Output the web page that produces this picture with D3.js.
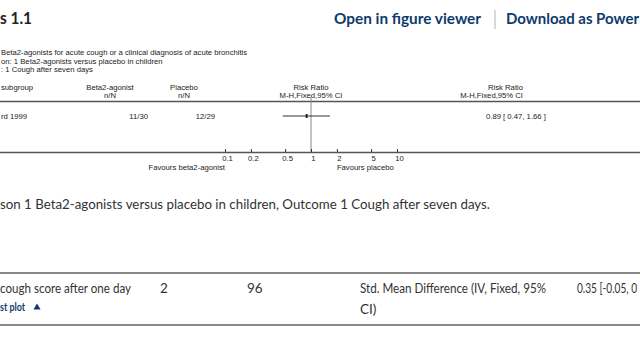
<!DOCTYPE html>
<html><head><meta charset="utf-8">
<script src="https://cdn.jsdelivr.net/npm/d3@7"></script>
<style>
html,body{margin:0;padding:0;background:#fff;overflow:hidden}
svg{display:block}
.pg{font-family:Lato,"Noto Sans",sans-serif}
.fp{font-family:"Liberation Sans",Arial,sans-serif;font-size:7.7px;fill:#222}
</style></head>
<body>
<script>
// ---- data ----
const reviewLines = ["Beta2-agonists for acute cough or a clinical diagnosis of acute bronchitis",
  "on:  1 Beta2-agonists versus placebo in children",
  ":  1 Cough after seven days"];
const studies = ["rd 1999"];
const treatEvents = ["11/30"];
const ctrlEvents = ["12/29"];
const rr = [0.89];
const rrLow = [0.47];
const rrHigh = [1.66];
const rrText = ["0.89 [ 0.47, 1.66 ]"];
const tickValues = [0.1, 0.2, 0.5, 1, 2, 5, 10];
const tickLabels = ["0.1", "0.2", "0.5", "1", "2", "5", "10"];
const favours = ["Favours beta2-agonist", "Favours placebo"];
const tableRow = ["cough score after one day", "2", "96", "Std. Mean Difference (IV, Fixed, 95%", "CI)", "0.35 [-0.05, 0"];

const W = 640, H = 360;
const svg = d3.select("body").append("svg").attr("width", W).attr("height", H);
svg.append("rect").attr("width", W).attr("height", H).attr("fill", "#fff");

// ---- page header ----
const pg = svg.append("g").attr("class", "pg");
pg.append("text").attr("x", 0).attr("y", 24).attr("font-size", 17).attr("font-weight", 700)
  .attr("fill", "#222").attr("textLength", 32).attr("lengthAdjust", "spacingAndGlyphs").text("s 1.1");
pg.append("text").attr("x", 334).attr("y", 24).attr("font-size", 15).attr("font-weight", 700)
  .attr("fill", "#0e3a6c").attr("textLength", 147).attr("lengthAdjust", "spacingAndGlyphs").text("Open in figure viewer");
pg.append("line").attr("x1", 495).attr("x2", 495).attr("y1", 10).attr("y2", 29).attr("stroke", "#ccc").attr("stroke-width", 1.5);
pg.append("text").attr("x", 506).attr("y", 24).attr("font-size", 15).attr("font-weight", 700)
  .attr("fill", "#0e3a6c").attr("textLength", 133).attr("lengthAdjust", "spacingAndGlyphs").text("Download as Power");

// ---- forest plot ----
const fp = svg.append("g").attr("class", "fp");
fp.selectAll("text.rv").data(reviewLines).join("text").attr("class", "rv")
  .attr("x", 1).attr("y", (d, i) => 55 + i * 8.6).text(d => d);

const x = d3.scaleLog().domain([0.1, 10]).range([225, 397]);

// column headers
const hdr = [
  {t: "subgroup", x: 1, a: "start", y: 90},
  {t: "Beta2-agonist", x: 110, a: "middle", y: 90},
  {t: "n/N", x: 110, a: "middle", y: 98},
  {t: "Placebo", x: 184, a: "middle", y: 90},
  {t: "n/N", x: 184, a: "middle", y: 98},
  {t: "Risk Ratio", x: x(1), a: "middle", y: 90},
  {t: "M-H,Fixed,95% CI", x: x(1), a: "middle", y: 98},
  {t: "Risk Ratio", x: 523, a: "end", y: 90},
  {t: "M-H,Fixed,95% CI", x: 523, a: "end", y: 98}
];
fp.selectAll("text.hd").data(hdr).join("text").attr("class", "hd")
  .attr("x", d => d.x).attr("y", d => d.y).attr("text-anchor", d => d.a).text(d => d.t);

fp.append("line").attr("x1", 0).attr("x2", W).attr("y1", 101.5).attr("y2", 101.5)
  .attr("stroke", "#555").attr("stroke-width", 1.6);

// null line
fp.append("line").attr("x1", x(1)).attr("x2", x(1)).attr("y1", 97).attr("y2", 152)
  .attr("stroke", "#888").attr("stroke-width", 1);

const rowY = i => 116 + i * 12;
fp.selectAll("text.st").data(studies).join("text").attr("class", "st")
  .attr("x", 1).attr("y", (d, i) => rowY(i) + 2.8).text(d => d);
fp.selectAll("text.te").data(treatEvents).join("text").attr("class", "te")
  .attr("x", 148).attr("y", (d, i) => rowY(i) + 2.8).attr("text-anchor", "end").text(d => d);
fp.selectAll("text.ce").data(ctrlEvents).join("text").attr("class", "ce")
  .attr("x", 215).attr("y", (d, i) => rowY(i) + 2.8).attr("text-anchor", "end").text(d => d);
fp.selectAll("line.ci").data(rr).join("line").attr("class", "ci")
  .attr("x1", (d, i) => x(rrLow[i])).attr("x2", (d, i) => x(rrHigh[i]))
  .attr("y1", (d, i) => rowY(i)).attr("y2", (d, i) => rowY(i))
  .attr("stroke", "#333").attr("stroke-width", 1);
fp.selectAll("rect.pt").data(rr).join("rect").attr("class", "pt")
  .attr("x", d => x(d) - 1).attr("y", (d, i) => rowY(i) - 2).attr("width", 2).attr("height", 4)
  .attr("fill", "#222");
fp.selectAll("text.rr").data(rrText).join("text").attr("class", "rr")
  .attr("x", 486).attr("y", (d, i) => rowY(i) + 2.8).text(d => d);

// axis
fp.append("line").attr("x1", 0).attr("x2", W).attr("y1", 152.5).attr("y2", 152.5)
  .attr("stroke", "#555").attr("stroke-width", 1.6);
const ax = d3.axisBottom(x).tickValues(tickValues).tickFormat((d, i) => tickLabels[i])
  .tickSize(-3).tickPadding(4);
const axg = fp.append("g").attr("transform", "translate(0,152)").call(ax);
axg.select(".domain").remove();
axg.selectAll(".tick line").attr("stroke", "#333");
axg.selectAll(".tick text").attr("font-family", "Liberation Sans, Arial, sans-serif")
  .attr("font-size", 7.7).attr("fill", "#222").attr("dx", 2);
fp.append("text").attr("x", x(1) - 86).attr("y", 169.5).attr("text-anchor", "end").text(favours[0]);
fp.append("text").attr("x", x(2)).attr("y", 169.5).attr("text-anchor", "start").text(favours[1]);

// ---- caption ----
pg.append("text").attr("x", 0).attr("y", 209).attr("font-size", 14).attr("fill", "#333")
  .attr("textLength", 490).attr("lengthAdjust", "spacingAndGlyphs")
  .text("son 1 Beta2-agonists versus placebo in children, Outcome 1 Cough after seven days.");

// ---- table ----
pg.append("line").attr("x1", 0).attr("x2", W).attr("y1", 273).attr("y2", 273).attr("stroke", "#888").attr("stroke-width", 2);
pg.append("line").attr("x1", 0).attr("x2", W).attr("y1", 325).attr("y2", 325).attr("stroke", "#888").attr("stroke-width", 2);
const cells = [
  {t: tableRow[0], x: 0, y: 293, w: 131},
  {t: tableRow[1], x: 160, y: 293},
  {t: tableRow[2], x: 247, y: 293},
  {t: tableRow[3], x: 360, y: 293, w: 186},
  {t: tableRow[4], x: 360, y: 314},
  {t: tableRow[5], x: 577, y: 293, w: 60}
];
const ct = pg.selectAll("text.cell").data(cells).join("text").attr("class", "cell")
  .attr("x", d => d.x).attr("y", d => d.y).attr("font-size", 13.5).attr("fill", "#333").text(d => d.t);
ct.filter(d => d.w).attr("textLength", d => d.w).attr("lengthAdjust", "spacingAndGlyphs");
pg.append("text").attr("x", 0).attr("y", 311).attr("font-size", 12).attr("font-weight", 700)
  .attr("fill", "#0e3a6c").attr("textLength", 25).attr("lengthAdjust", "spacingAndGlyphs").text("st plot");
pg.append("path").attr("d", d3.symbol(d3.symbolTriangle, 22)())
  .attr("transform", "translate(37,307.5)").attr("fill", "#0e3a6c");
</script>
</body></html>
